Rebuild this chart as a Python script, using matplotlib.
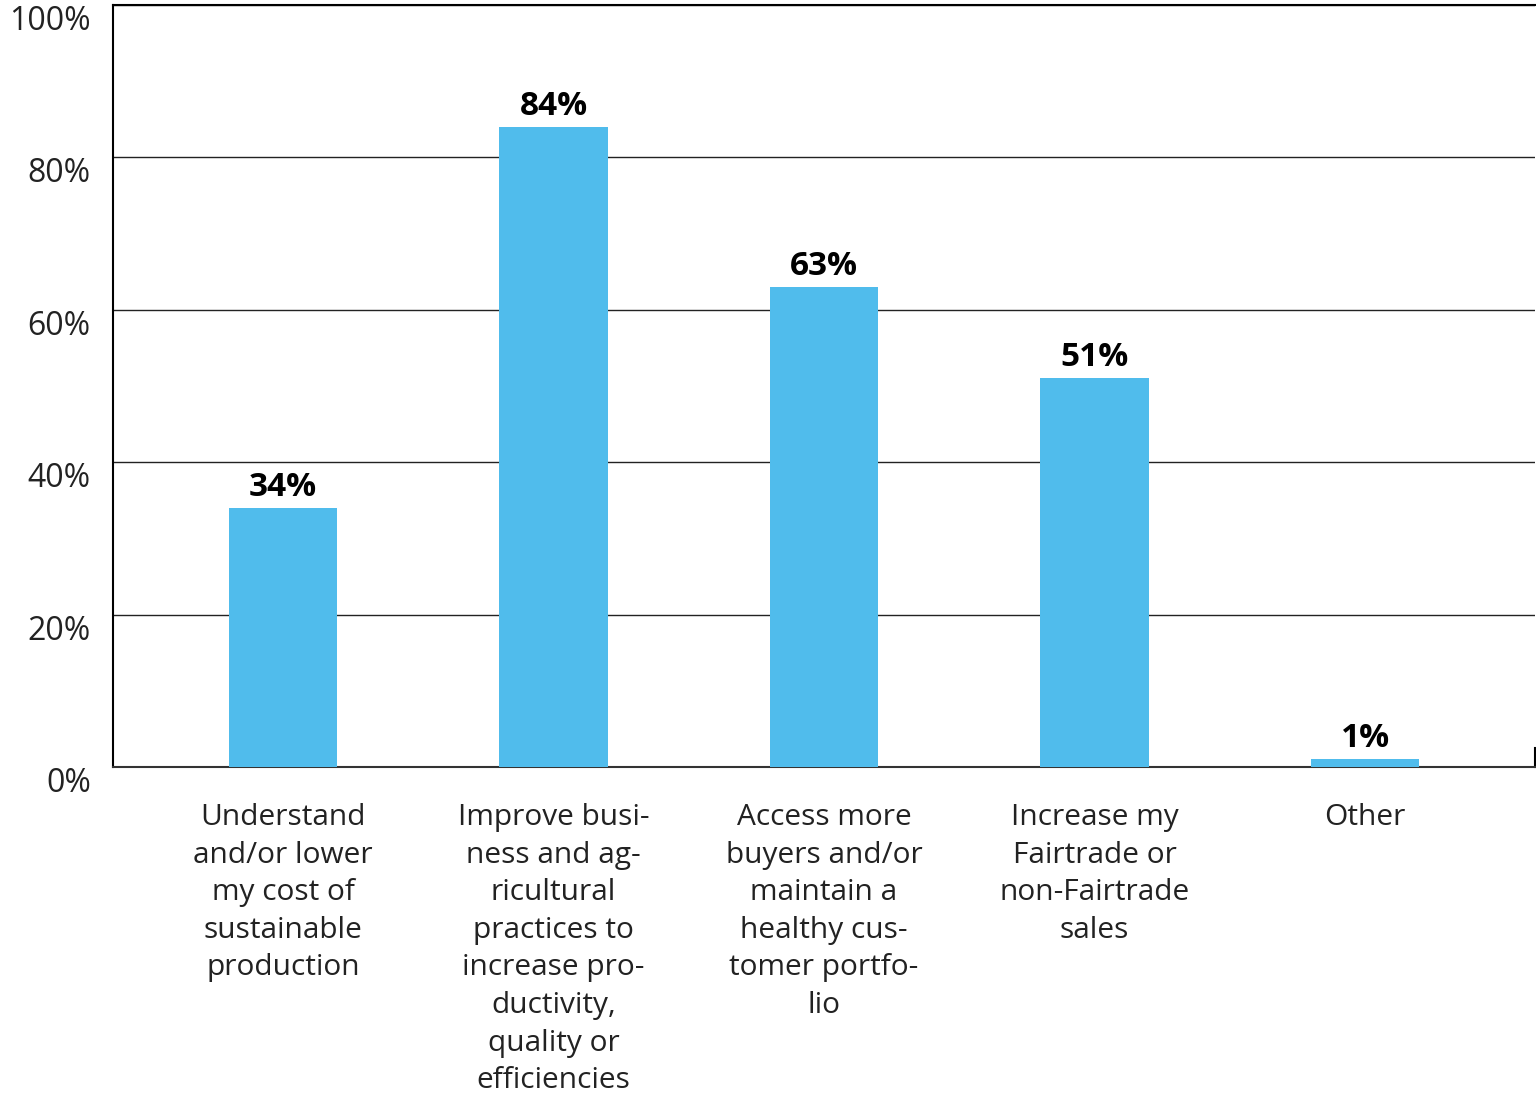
import matplotlib
matplotlib.use("Agg")
import matplotlib.pyplot as plt

# Datos
categorias = [
    "Understand\nand/or lower\nmy cost of\nsustainable\nproduction",
    "Improve busi-\nness and ag-\nricultural\npractices to\nincrease pro-\nductivity,\nquality or\nefficiencies",
    "Access more\nbuyers and/or\nmaintain a\nhealthy cus-\ntomer portfo-\nlio",
    "Increase my\nFairtrade or\nnon-Fairtrade\nsales",
    "Other",
]
valores = [34, 84, 63, 51, 1]
yticks = [0, 20, 40, 60, 80, 100]
ytick_labels = ["0%", "20%", "40%", "60%", "80%", "100%"]

COLOR_BARRA = "#50BCEC"
COLOR_TEXTO = "#222222"

plt.rcParams["font.family"] = ["Open Sans", "DejaVu Sans"]

fig = plt.figure(figsize=(15.36, 10.97), dpi=100)
ax = fig.add_axes([0.0736, 0.3008, 0.9257, 0.6946])

x = list(range(len(valores)))
ax.bar(x, valores, width=0.4, color=COLOR_BARRA, zorder=3)

# Etiquetas de valor
for xi, v in zip(x, valores):
    ax.annotate(f"{v}%", (xi, v), xytext=(0, 3), textcoords="offset points",
                ha="center", va="bottom", fontsize=24, fontweight="bold",
                color="black", zorder=4)

ax.set_xlim(-0.628, 4.628)
ax.set_ylim(0, 100)

ax.set_yticks(yticks)
ax.set_yticklabels(ytick_labels, fontsize=23, color=COLOR_TEXTO, va="top")
ax.set_xticks(x)
ax.set_xticklabels(categorias, fontsize=21.5, color=COLOR_TEXTO,
                   linespacing=1.39, ha="center", multialignment="center")
ax.tick_params(axis="both", length=0)
ax.tick_params(axis="y", pad=16)
ax.tick_params(axis="x", pad=26)

# Rejilla horizontal
ax.grid(axis="y", color="#222222", linewidth=1.0, zorder=0)
ax.set_axisbelow(True)

for lado in ["left", "top"]:
    ax.spines[lado].set_color("black")
    ax.spines[lado].set_linewidth(1.5)
ax.spines["bottom"].set_color("#333333")
ax.spines["bottom"].set_linewidth(1.5)
ax.spines["right"].set_visible(False)
# pequeño trazo a la derecha, junto al eje inferior
ax.axvline(ax.get_xlim()[1], ymin=0, ymax=0.025, color="black", linewidth=1.5, clip_on=False)

fig.savefig("out.png", dpi=100, facecolor="white")
